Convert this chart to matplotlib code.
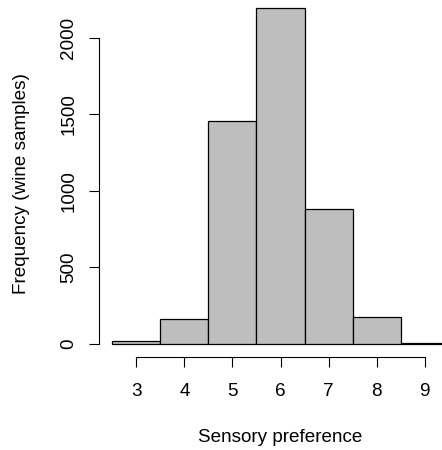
import matplotlib
matplotlib.use("Agg")
import matplotlib.pyplot as plt
import numpy as np

# Data: wine quality histogram
quality = [3, 4, 5, 6, 7, 8, 9]
counts = [20, 163, 1457, 2198, 880, 175, 5]
yticks = [0, 500, 1000, 1500, 2000]
xticks = [3, 4, 5, 6, 7, 8, 9]

plt.rcParams['font.family'] = ['Liberation Sans', 'DejaVu Sans']

W, H = 442, 450
fig = plt.figure(figsize=(W / 100, H / 100), dpi=100)

# R-like plot region (partly cropped at top/right in reference)
left_px, right_px, bottom_px, top_px = 99, 462, 357, -5.6
ax = fig.add_axes([left_px / W, (H - bottom_px) / H,
                   (right_px - left_px) / W, (bottom_px - top_px) / H])
ax.patch.set_alpha(0)

edges = np.array(quality) - 0.5
ax.bar(edges, counts, width=1.0, align='edge', color='#BEBEBE',
       edgecolor='black', linewidth=0.9)

lo, hi = edges[0], edges[-1] + 1
ext = 0.04 * (hi - lo)
ax.set_xlim(lo - ext, hi + ext)
ymax = max(counts)
ax.set_ylim(-0.04 * ymax, ymax * 1.04)

for s in ['top', 'right']:
    ax.spines[s].set_visible(False)
ax.spines['left'].set_bounds(yticks[0], yticks[-1])
ax.spines['bottom'].set_bounds(xticks[0], xticks[-1])
for s in ['left', 'bottom']:
    ax.spines[s].set_linewidth(0.8)

fs = 13.6
ax.set_xticks(xticks)
ax.set_yticks(yticks)
ax.set_yticklabels([str(v) for v in yticks], rotation=90, va='center')
ax.tick_params(axis='both', length=7.5, width=0.8, labelsize=fs, direction='out')
ax.tick_params(axis='x', pad=11)
ax.tick_params(axis='y', pad=8)

fig.text(280.5 / W, 1 - 437 / H, 'Sensory preference', ha='center', va='center', fontsize=fs)
fig.text(22 / W, 1 - 184 / H, 'Frequency (wine samples)', ha='center', va='center',
         rotation=90, fontsize=fs)

fig.savefig('out.png', dpi=100)
